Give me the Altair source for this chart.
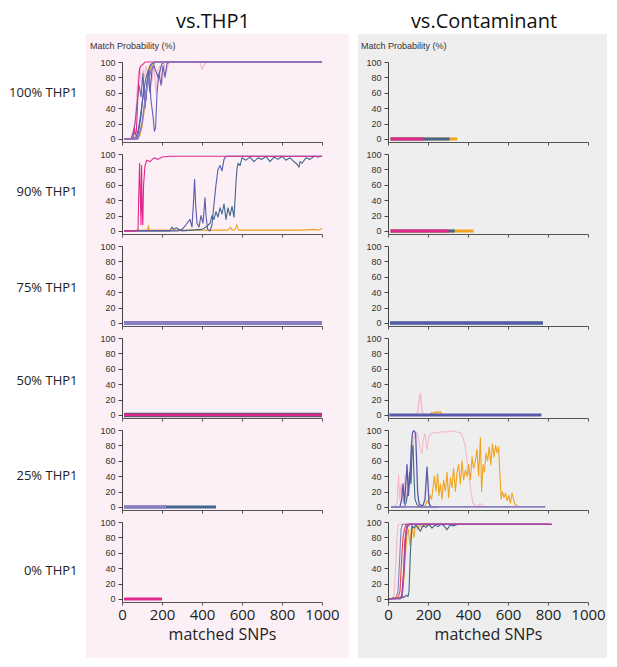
import altair as alt

# ---------------- labels / ticks ----------------
row_labels = ["100% THP1", "90% THP1", "75% THP1", "50% THP1", "25% THP1", "0% THP1"]
col_titles = ["vs.THP1", "vs.Contaminant"]
y_ticks = [0, 20, 40, 60, 80, 100]
x_ticks = [0, 200, 400, 600, 800, 1000]
y_title = "Match Probability (%)"
x_title = "matched SNPs"

# ---------------- vs.THP1 column ----------------
# 100% THP1
L1_pink_x = [10, 50, 60, 68, 75, 82, 90, 98, 105, 112, 120, 130, 140, 150, 160, 170, 180, 190, 200, 210, 220, 235, 250, 390, 400, 410, 420, 1000]
L1_pink_y = [0, 0, 5, 30, 60, 85, 92, 70, 90, 80, 95, 85, 98, 75, 95, 60, 90, 95, 70, 98, 85, 100, 100, 100, 90, 96, 100, 100]
L1_orange_x = [10, 60, 80, 90, 100, 110, 120, 130, 140, 150, 160, 1000]
L1_orange_y = [0, 0, 2, 5, 15, 35, 60, 80, 90, 97, 100, 100]
L1_steel_x = [10, 50, 70, 80, 90, 100, 110, 120, 130, 140, 150, 165, 180, 1000]
L1_steel_y = [0, 0, 3, 10, 25, 45, 65, 80, 88, 95, 98, 100, 100, 100]
L1_blue_x = [10, 70, 80, 95, 110, 120, 130, 140, 150, 160, 180, 200, 215, 1000]
L1_blue_y = [0, 0, 5, 30, 70, 50, 85, 60, 90, 95, 80, 98, 100, 100]
L1_slate_x = [10, 45, 55, 65, 75, 85, 95, 105, 115, 125, 135, 145, 155, 162, 168, 175, 185, 195, 205, 215, 225, 240, 260, 1000]
L1_slate_y = [0, 0, 8, 20, 45, 70, 55, 85, 40, 75, 90, 50, 30, 10, 15, 60, 85, 70, 95, 80, 98, 100, 100, 100]
L1_magenta_x = [10, 40, 55, 62, 66, 72, 80, 88, 95, 105, 115, 1000]
L1_magenta_y = [0, 0, 2, 15, 5, 10, 60, 92, 95, 97, 100, 100]
L1_lav_x = [10, 80, 100, 120, 135, 150, 165, 1000]
L1_lav_y = [0, 0, 20, 60, 80, 92, 100, 100]

# 90% THP1
L2_orange_x = [10, 120, 128, 132, 136, 150, 300, 500, 530, 543, 550, 565, 575, 582, 600, 800, 900, 960, 980, 1000]
L2_orange_y = [0, 1, 2, 7, 1, 1, 1, 1, 1, 5, 1, 2, 8, 1, 1, 1, 1, 2, 1, 3]
L2_steel_x = [10, 240, 250, 260, 270, 300, 400, 420, 440, 450, 460, 470, 480, 490, 500, 510, 520, 530, 540, 550, 560, 565, 570, 575, 580, 590, 600, 620, 640, 660, 680, 700, 720, 740, 760, 780, 800, 820, 840, 860, 870, 880, 885, 890, 900, 920, 940, 960, 980, 1000]
L2_steel_y = [0, 0, 5, 2, 4, 0, 2, 5, 10, 20, 15, 25, 18, 30, 22, 35, 15, 30, 20, 32, 18, 40, 65, 80, 88, 85, 95, 92, 96, 90, 95, 93, 97, 90, 96, 93, 97, 92, 95, 90, 88, 85, 83, 90, 88, 95, 93, 97, 96, 97]
L2_slate_x = [10, 280, 300, 320, 340, 350, 358, 363, 368, 375, 385, 395, 405, 415, 420, 428, 440, 450, 460, 470, 480, 490, 500, 510, 520, 540, 1000]
L2_slate_y = [0, 0, 2, 8, 15, 5, 40, 67, 35, 10, 5, 20, 10, 43, 20, 2, 0, 8, 35, 60, 80, 85, 78, 93, 97, 97, 97]
L2_magenta_x = [10, 70, 80, 85, 88, 92, 95, 98, 101, 104, 108, 115, 125, 140, 160, 180, 200, 240, 1000]
L2_magenta_y = [0, 0, 2, 60, 88, 40, 8, 85, 30, 8, 60, 85, 92, 90, 95, 93, 96, 97, 97]

# 75% THP1
L3_slate_x = [10, 1000]
L3_slate_y = [0, 0]
L3_lav_x = [10, 1000]
L3_lav_y = [0, 0]

# 50% THP1
L4_steel_x = [10, 1000]
L4_steel_y = [0, 0]
L4_magenta_x = [10, 1000]
L4_magenta_y = [0, 0]

# 25% THP1
L5_steel_x = [10, 470]
L5_steel_y = [0, 0]
L5_lav_x = [10, 220]
L5_lav_y = [0, 0]

# 0% THP1
L6_magenta_x = [10, 200]
L6_magenta_y = [0, 0]

# ---------------- vs.Contaminant column ----------------
# 100% THP1
R1_orange_x = [13, 346]
R1_orange_y = [0, 0]
R1_steel_x = [13, 308]
R1_steel_y = [0, 0]
R1_magenta_x = [13, 180]
R1_magenta_y = [0, 0]

# 90% THP1
R2_orange_x = [13, 428]
R2_orange_y = [0, 0]
R2_steel_x = [13, 333]
R2_steel_y = [0, 0]
R2_magenta_x = [13, 303]
R2_magenta_y = [0, 0]

# 75% THP1
R3_steel_x = [10, 775]
R3_steel_y = [0, 0]
R3_slate_x = [10, 765]
R3_slate_y = [0, 0]

# 50% THP1
R4_pink_x = [140, 150, 156, 162, 167, 172, 180]
R4_pink_y = [0, 5, 20, 28, 15, 2, 0]
R4_orange_x = [210, 220, 230, 240, 250, 260, 270, 280]
R4_orange_y = [0, 3, 2, 4, 3, 4, 1, 0]
R4_slate_x = [7, 767]
R4_slate_y = [0, 0]

# 25% THP1
R5_pink_x = [30, 45, 53, 58, 65, 70, 78, 85, 92, 100, 110, 120, 128, 135, 145, 155, 163, 170, 178, 185, 195, 205, 215, 230, 250, 270, 290, 310, 330, 350, 365, 375, 385, 395, 405, 415, 425, 440, 455, 465, 478, 490]
R5_pink_y = [0, 5, 42, 10, 30, 15, 5, 40, 10, 20, 45, 70, 88, 95, 97, 85, 75, 70, 90, 95, 75, 92, 95, 97, 96, 98, 97, 99, 98, 97, 96, 90, 80, 60, 40, 20, 5, 0, 3, 4, 0, 0]
R5_orange_x = [150, 170, 187, 195, 203, 210, 218, 225, 232, 240, 248, 255, 262, 270, 278, 287, 295, 303, 312, 320, 328, 337, 345, 353, 362, 370, 378, 387, 395, 403, 412, 420, 428, 437, 445, 453, 462, 468, 475, 482, 490, 498, 506, 514, 522, 530, 538, 546, 553, 560, 566, 572, 580, 588, 596, 604, 612, 620, 628, 636, 645, 653]
R5_orange_y = [0, 0, 2, 8, 5, 15, 10, 25, 40, 20, 43, 15, 30, 10, 35, 20, 45, 12, 38, 25, 50, 20, 45, 55, 30, 60, 35, 48, 40, 55, 35, 65, 50, 60, 75, 40, 90, 20, 55, 45, 70, 60, 78, 55, 82, 65, 80, 70, 78, 40, 10, 20, 12, 18, 8, 15, 5, 18, 10, 3, 2, 0]
R5_steel_x = [15, 80, 90, 100, 108, 115, 120, 125, 130, 135, 145, 160, 200, 250]
R5_steel_y = [0, 0, 5, 20, 45, 30, 70, 80, 40, 10, 3, 0, 0, 0]
R5_slate_x = [15, 60, 68, 75, 82, 88, 95, 102, 110, 117, 123, 128, 133, 138, 143, 148, 153, 158, 165, 175, 185, 195, 200, 205, 210, 220, 250]
R5_slate_y = [0, 0, 10, 30, 5, 25, 55, 15, 40, 80, 97, 99, 98, 95, 60, 20, 8, 3, 2, 2, 10, 52, 30, 5, 2, 0, 0]
R5_lav_x = [15, 787]
R5_lav_y = [0, 0]

# 0% THP1
R6_pink_x = [5, 20, 30, 38, 45, 50, 55, 500]
R6_pink_y = [0, 1, 5, 40, 80, 95, 97, 97]
R6_lav_x = [5, 40, 50, 58, 65, 72, 800]
R6_lav_y = [0, 2, 10, 50, 90, 97, 97]
R6_red_x = [5, 50, 60, 68, 75, 82, 90, 300]
R6_red_y = [0, 2, 10, 50, 80, 90, 97, 97]
R6_orange_x = [5, 60, 72, 80, 88, 95, 102, 110, 118, 125, 130, 135, 140, 150, 160, 170, 180, 200, 220, 800]
R6_orange_y = [0, 2, 5, 30, 60, 85, 90, 70, 95, 88, 80, 92, 95, 90, 97, 93, 96, 95, 97, 97]
R6_magenta_x = [5, 60, 70, 78, 85, 92, 100, 110, 820]
R6_magenta_y = [0, 1, 3, 30, 75, 90, 95, 97, 97]
R6_steel_x = [5, 60, 75, 85, 92, 100, 105, 112, 120, 130, 140, 150, 162, 175, 190, 205, 220, 235, 250, 265, 280, 295, 310, 330, 350]
R6_steel_y = [0, 1, 2, 3, 5, 3, 10, 60, 95, 92, 97, 93, 88, 95, 93, 97, 92, 96, 94, 97, 95, 90, 96, 95, 97]
R6_purple_x = [5, 60, 70, 80, 88, 95, 105, 810]
R6_purple_y = [0, 0, 5, 40, 80, 95, 97, 97]

# ---------------- styles ----------------
MAGENTA = "#e2288d"
PINK = "#f6b8cc"
ORANGE = "#f2a31c"
STEEL = "#41678d"
SLATE = "#5a5aab"
LAVENDER = "#8a7fc4"
PURPLE = "#9c4cb2"
RED = "#e8473d"
PINK_BG = "#fcf0f6"
GRAY_BG = "#efeeef"
THIN = 1.1
THICK = 3

left_panels = [
    [(L1_pink_x, L1_pink_y, PINK, THIN), (L1_orange_x, L1_orange_y, ORANGE, THIN),
     (L1_steel_x, L1_steel_y, STEEL, THIN), (L1_blue_x, L1_blue_y, SLATE, THIN),
     (L1_slate_x, L1_slate_y, "#6660b4", THIN), (L1_magenta_x, L1_magenta_y, MAGENTA, THIN),
     (L1_lav_x, L1_lav_y, LAVENDER, 1.5)],
    [(L2_orange_x, L2_orange_y, ORANGE, THIN), (L2_steel_x, L2_steel_y, STEEL, THIN),
     (L2_slate_x, L2_slate_y, SLATE, THIN), (L2_magenta_x, L2_magenta_y, MAGENTA, THIN)],
    [(L3_slate_x, L3_slate_y, SLATE, 3.5), (L3_lav_x, L3_lav_y, LAVENDER, 2)],
    [(L4_steel_x, L4_steel_y, "#50607a", 4.5), (L4_magenta_x, L4_magenta_y, MAGENTA, 2.5)],
    [(L5_steel_x, L5_steel_y, STEEL, THICK), (L5_lav_x, L5_lav_y, LAVENDER, THICK)],
    [(L6_magenta_x, L6_magenta_y, MAGENTA, THICK)],
]
right_panels = [
    [(R1_orange_x, R1_orange_y, ORANGE, THICK), (R1_steel_x, R1_steel_y, STEEL, THICK),
     (R1_magenta_x, R1_magenta_y, MAGENTA, THICK)],
    [(R2_orange_x, R2_orange_y, ORANGE, THICK), (R2_steel_x, R2_steel_y, STEEL, THICK),
     (R2_magenta_x, R2_magenta_y, MAGENTA, THICK)],
    [(R3_steel_x, R3_steel_y, STEEL, 3.5), (R3_slate_x, R3_slate_y, SLATE, 2.5)],
    [(R4_pink_x, R4_pink_y, PINK, 1.5), (R4_orange_x, R4_orange_y, ORANGE, 1.5),
     (R4_slate_x, R4_slate_y, SLATE, THICK)],
    [(R5_pink_x, R5_pink_y, PINK, THIN), (R5_orange_x, R5_orange_y, ORANGE, THIN),
     (R5_steel_x, R5_steel_y, STEEL, THIN), (R5_slate_x, R5_slate_y, SLATE, 1.3),
     (R5_lav_x, R5_lav_y, LAVENDER, 1.6)],
    [(R6_pink_x, R6_pink_y, PINK, THIN), (R6_lav_x, R6_lav_y, LAVENDER, THIN),
     (R6_red_x, R6_red_y, RED, THIN), (R6_orange_x, R6_orange_y, ORANGE, THIN),
     (R6_magenta_x, R6_magenta_y, MAGENTA, 1.4), (R6_steel_x, R6_steel_y, STEEL, THIN),
     (R6_purple_x, R6_purple_y, PURPLE, 1.4)],
]

W, H = 200, 80
ROW_GAP = 12
label_y = [30, 37, 41, 42, 45, 48]
BG_LEFT = [-36, -30]
BG_RIGHT = [227, 219]
COL_GAP = 66 - (BG_RIGHT[0] - W) + BG_LEFT[1]  # plot-to-plot distance 66 px
TITLE_DX = [W / 2 - 9, W / 2 - 4]

x_scale = alt.Scale(domain=[0, 1000], nice=False)
y_scale = alt.Scale(domain=[-4, 100], nice=False)


def make_panel(series, row, col):
    bottom = row == len(row_labels) - 1
    x_axis = alt.Axis(
        values=x_ticks, format="d", labels=bottom, ticks=True, tickSize=3, grid=False,
        title=x_title if bottom else "", domainColor="#555", tickColor="#555",
        labelFont="Open Sans", labelFontSize=15, labelColor="#222", labelPadding=2,
        labelOverlap=False, labelFlush=False,
        titleFont="Open Sans", titleFontSize=16, titleFontWeight="normal",
        titleColor="#222", titlePadding=4, zindex=1,
    )
    y_axis = alt.Axis(
        values=y_ticks, grid=False, tickSize=4, tickColor="#444", domainColor="#444",
        labelFont="Liberation Sans", labelFontSize=9, labelColor="#333", labelPadding=3,
        title=row_labels[row] if col == 0 else "", titleAngle=0, titleAlign="right",
        titleBaseline="middle", titleX=-45, titleY=label_y[row],
        titleFont="Open Sans", titleFontSize=13, titleFontWeight="normal",
        titleColor="#222", zindex=1,
    )
    layers = []
    if row == 0:
        fill = PINK_BG if col == 0 else GRAY_BG
        layers.append(
            alt.Chart(alt.Data(values=[{}])).mark_rect(color=fill).encode(
                x=alt.value(BG_LEFT[col]), x2=alt.value(BG_RIGHT[col]),
                y=alt.value(-28), y2=alt.value(596)
            )
        )
    for xs, ys, color, width in series:
        data = alt.Data(values=[{"snp": a, "p": b} for a, b in zip(xs, ys)])
        layers.append(
            alt.Chart(data).mark_line(color=color, strokeWidth=width, strokeJoin="round").encode(
                x=alt.X("snp:Q", scale=x_scale, axis=x_axis),
                y=alt.Y("p:Q", scale=y_scale, axis=y_axis),
            )
        )
    ch = alt.layer(*layers).properties(width=W, height=H)
    if row == 0:
        ch = ch.properties(title=alt.TitleParams(
            text=y_title, anchor="start", frame="group", dx=-32 if col == 0 else -27,
            fontSize=9, font="Liberation Sans", fontWeight="normal", color="#333", offset=-17))
    return ch


columns = []
for ci, panels in enumerate([left_panels, right_panels]):
    col = alt.vconcat(*[make_panel(s, r, ci) for r, s in enumerate(panels)],
                      spacing=ROW_GAP, bounds="flush").properties(
        title=alt.TitleParams(text=col_titles[ci], fontSize=20, font="Open Sans",
                              fontWeight="normal", color="#111", anchor="middle",
                              frame="group", dx=TITLE_DX[ci], offset=2))
    columns.append(col)

chart = alt.hconcat(*columns, spacing=COL_GAP).properties(
    padding={"left": 0, "top": 4, "right": 0, "bottom": 0}, background="white"
).configure_view(strokeWidth=0)

chart.save("out.html", embed_options={"renderer": "svg", "actions": False})
